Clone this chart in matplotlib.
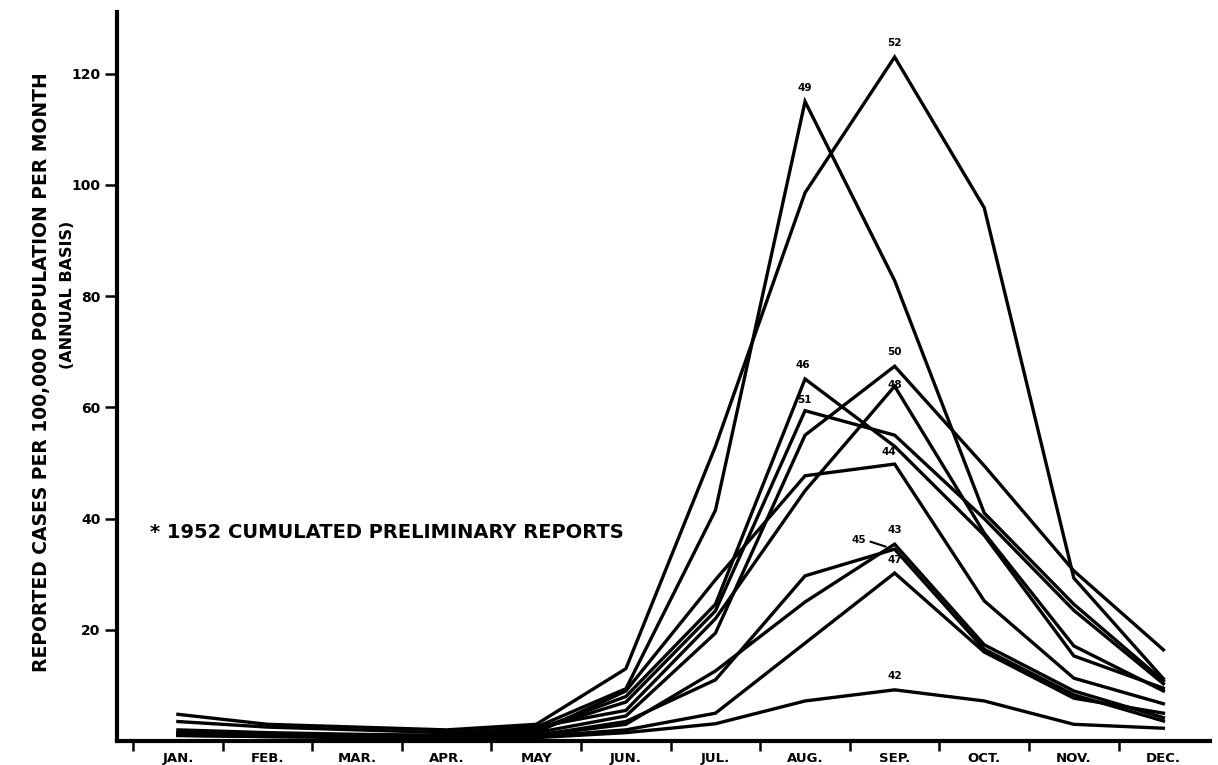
import matplotlib
matplotlib.use("Agg")
import matplotlib.pyplot as plt
import numpy as np

plt.rcParams['font.family'] = ['DejaVu Sans']
plt.rcParams['font.weight'] = 'bold'

# -----------------------------------------------------------#
# Data (cases per 100,000 per month)
# -----------------------------------------------------------#
months = ["JAN.", "FEB.", "MAR.", "APR.", "MAY", "JUN.",
          "JUL.", "AUG.", "SEP.", "OCT.", "NOV.", "DEC."]

y42 = [1.0, 0.8, 0.6, 0.5, 0.6, 1.5, 3.1, 7.2, 9.2, 7.2, 3.0, 2.3]
y43 = [1.2, 1.0, 0.8, 0.7, 1.0, 3.0, 12.6, 25.0, 35.4, 17.3, 9.0, 4.2]
y44 = [1.5, 1.2, 1.0, 0.8, 1.5, 9.0, 29.0, 47.7, 49.8, 25.2, 11.3, 6.7]
y45 = [1.3, 1.0, 0.9, 0.7, 1.0, 3.5, 11.0, 29.7, 34.5, 16.5, 8.3, 3.6]
y46 = [2.0, 1.5, 1.2, 1.0, 2.0, 8.0, 24.6, 65.1, 53.0, 37.0, 15.3, 9.5]
y47 = [1.0, 0.8, 0.7, 0.6, 0.8, 2.0, 5.0, 17.6, 30.2, 16.0, 7.7, 5.0]
y48 = [1.5, 1.3, 1.0, 1.0, 2.5, 5.5, 22.0, 45.0, 63.8, 37.4, 17.1, 9.0]
y49 = [3.5, 2.5, 2.0, 1.5, 2.5, 9.4, 41.5, 115.0, 82.8, 41.0, 24.6, 10.8]
y50 = [1.2, 1.0, 0.8, 0.8, 1.5, 4.5, 19.4, 55.0, 67.4, 49.5, 30.6, 16.4]
y51 = [1.3, 1.2, 1.0, 1.0, 2.0, 7.0, 23.4, 59.4, 55.0, 40.0, 23.5, 10.3]
y52 = [4.8, 3.0, 2.5, 2.0, 3.0, 13.0, 53.0, 98.6, 123.0, 95.9, 29.3, 11.2]

years = ["42", "43", "44", "45", "46", "47", "48", "49", "50", "51", "52"]
series = [y42, y43, y44, y45, y46, y47, y48, y49, y50, y51, y52]

# month index where each year label sits, and label offset in pixels
label_month = {"42": 8, "43": 8, "44": 8, "45": 8, "46": 7, "47": 8,
               "48": 8, "49": 7, "50": 8, "51": 7, "52": 8}
label_off = {"42": (0, 9), "43": (0, 9), "44": (-6, 7), "45": (-36, 4),
             "46": (-2, 9), "47": (0, 8), "48": (0, -4), "49": (0, 9),
             "50": (0, 9), "51": (-1, 6), "52": (0, 9)}

# -----------------------------------------------------------#
# Graph
# -----------------------------------------------------------#
fig = plt.figure(figsize=(12.18, 7.65), dpi=100)
ax = fig.add_axes([117/1218, 24/765, (1210-117)/1218, (741-12)/765])

x = np.arange(len(months))
for yr, s in zip(years, series):
    ax.plot(x, s, color="black", linewidth=2.4, solid_joinstyle="miter")

for yr, s in zip(years, series):
    m = label_month[yr]
    dx, dy = label_off[yr]
    ax.annotate(yr, (x[m], s[m]), xytext=(dx, dy), textcoords="offset pixels",
                ha="center", va="bottom", fontsize=7.5, fontweight="bold")

# leader line for 45
ax.annotate("", xy=(x[8] - 0.07, y45[8] + 0.3), xytext=(x[8] - 0.3, y45[8] + 1.5),
            arrowprops=dict(arrowstyle="-", color="black", linewidth=1.5))

ax.set_xlim(-0.68, 11.52)
ax.set_ylim(0, 131.1)

for side in ["top", "right"]:
    ax.spines[side].set_visible(False)
ax.spines["left"].set_linewidth(3.0)
ax.spines["bottom"].set_linewidth(3.0)

ax.set_yticks([20, 40, 60, 80, 100, 120])
ax.set_yticklabels(["20", "40", "60", "80", "100", "120"], fontsize=10, fontweight="bold")
ax.tick_params(axis="y", direction="out", length=9, width=1.8, pad=3)

ax.set_xticks(np.arange(-0.5, 11.5, 1.0))
ax.set_xticklabels([])
ax.tick_params(axis="x", which="major", direction="out", length=7, width=1.8)
ax.set_xticks(x, minor=True)
ax.set_xticklabels(months, minor=True, fontsize=9.5, fontweight="bold")
ax.tick_params(axis="x", which="minor", length=0, pad=8)

fig.text(42/1218, 1 - 372/765, "REPORTED CASES PER 100,000 POPULATION PER MONTH",
         rotation=90, ha="center", va="center", fontsize=13.5, fontweight="bold")
fig.text(67/1218, 1 - 295/765, "(ANNUAL BASIS)",
         rotation=90, ha="center", va="center", fontsize=11.5, fontweight="bold")

ax.text(150/1218, 1 - 533/765, "* 1952 CUMULATED PRELIMINARY REPORTS",
        transform=fig.transFigure, ha="left", va="center", fontsize=14, fontweight="bold")

fig.savefig("out.png", dpi=100)
